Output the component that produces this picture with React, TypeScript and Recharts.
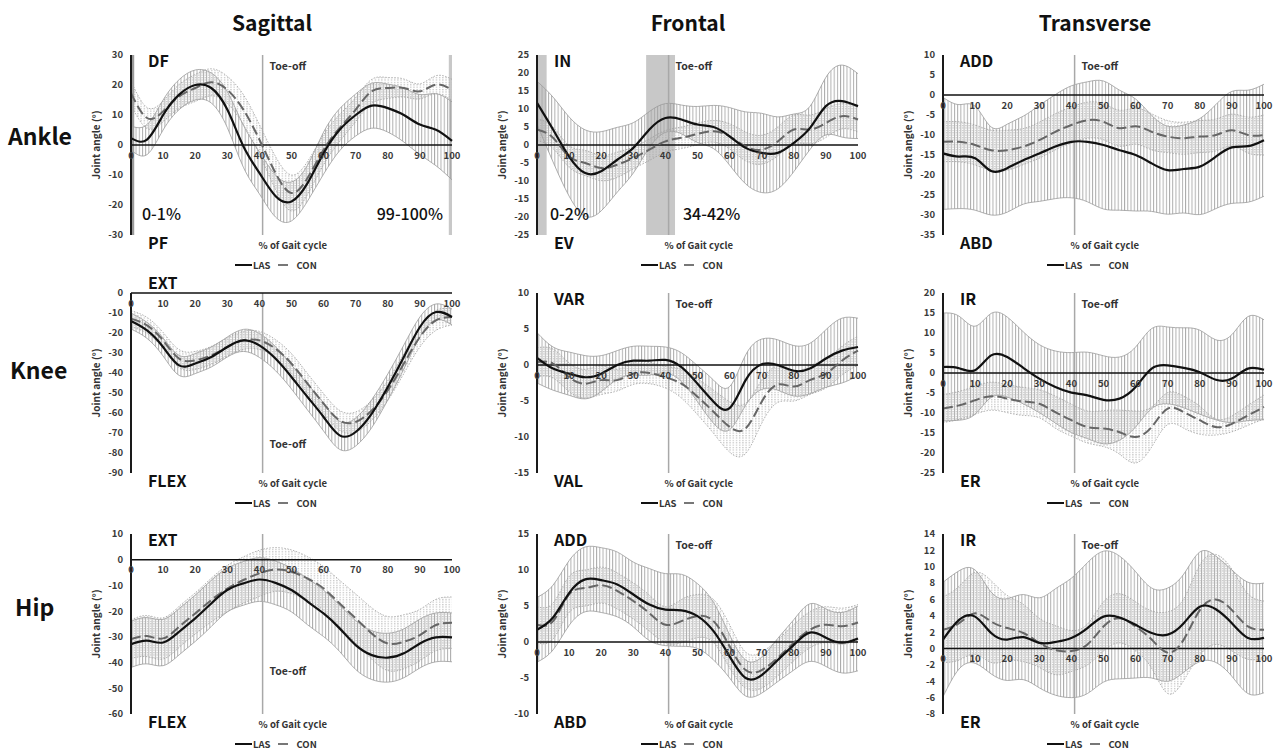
import React from "react";
import {
  Area,
  ComposedChart,
  Line,
  ReferenceArea,
  ReferenceDot,
  ReferenceLine,
  XAxis,
  YAxis,
} from "recharts";

const FONT = "'Noto Sans CJK KR', 'Noto Sans', sans-serif";

// % of gait cycle, sampled every 5%
const X = [0, 5, 10, 15, 20, 25, 30, 35, 40, 45, 50, 55, 60, 65, 70, 75, 80, 85, 90, 95, 100];
const X_TICKS = [0, 10, 20, 30, 40, 50, 60, 70, 80, 90, 100];
const TOE_OFF = 41;

// ---- Ankle ----
const ankleSagLas = [2.3, 1.8, 10, 16.8, 20, 19, 11.8, -0.4, -9.3, -17, -18.8, -12.7, -2.7, 5.1, 10, 13.1, 12.3, 10, 6.8, 5.1, 1.4];
const ankleSagLasSd = [4, 5, 5, 5, 5, 5, 6, 7, 7, 7, 6.5, 6, 7, 7, 7, 7.5, 8, 9, 10, 12, 13];
const ankleSagCon = [17.3, 9, 11.2, 16.2, 19, 20.9, 18.4, 11.8, 1.8, -9.3, -16, -11, -1.6, 5.7, 11.8, 17.9, 19, 19, 17.9, 20.1, 18.4];
const ankleSagConSd = [4, 3.5, 3.5, 4, 4.5, 4.5, 4.5, 5, 5, 5.5, 6, 5.5, 5, 4.5, 4, 4, 3.5, 3, 2.5, 3, 3.5];

const ankleFrontLas = [11.7, 4.3, -3.2, -7.8, -7.3, -4.1, -0.8, 4.3, 7.5, 7.1, 5.7, 5, 2.4, -0.8, -2.2, -2.2, 0.6, 4.7, 10.8, 12.2, 10.8];
const ankleFrontLasSd = [6, 9, 11, 12, 11, 9, 7, 5, 4, 4, 5, 6, 8, 10, 11, 10, 8, 6, 8, 10, 9];
const ankleFrontCon = [4.3, 2, -3.2, -5, -6.4, -5.5, -3.6, -1.3, 1, 2, 3.1, 3.8, 2.4, -0.4, -1.3, 1, 4.3, 4.3, 6.1, 8, 7.1];
const ankleFrontConSd = [3, 3, 3, 3.5, 3.5, 3.5, 3, 3, 3, 3, 3, 3, 3.5, 4, 4, 4, 4, 4, 4, 3.5, 3.5];

const ankleTransLas = [-14.6, -15.4, -15.8, -19, -18.3, -16.3, -14.6, -12.9, -11.7, -11.7, -12.5, -13.8, -15, -17.1, -18.8, -18.5, -17.9, -15.4, -13.1, -12.8, -11.3];
const ankleTransLasSd = [14, 13, 13, 11, 11, 11, 12, 13, 14, 15, 16, 15, 14, 12, 11, 11, 12, 13, 14, 14, 14];
const ankleTransCon = [-11.7, -11.7, -12.5, -13.8, -13.8, -12.9, -11.3, -9.2, -7.5, -6.3, -6.7, -8.3, -7.8, -9.2, -10.4, -10.8, -10.4, -10, -8.8, -10, -10];
const ankleTransConSd = [5, 5, 5, 5, 5, 4.5, 4.5, 4.5, 4.5, 4.5, 4.5, 4.5, 4.5, 4.5, 4, 4, 4, 4, 4, 4.5, 5];

// ---- Knee ----
const kneeSagLas = [-14, -18.7, -27, -36.2, -35.3, -32, -27, -23.7, -26.2, -32.8, -42, -52, -62, -71.2, -69.5, -60.3, -47, -32, -17, -9.5, -12];
const kneeSagLasSd = [4, 4, 4.5, 5, 5, 5, 5, 5.5, 6, 6, 6, 6.5, 7, 7, 7, 7, 6.5, 6, 5, 4, 4];
const kneeSagCon = [-12.8, -16.2, -23.7, -32.8, -33.7, -31.2, -27, -23.7, -23.7, -27.8, -35.3, -45.3, -55.3, -63.7, -64.5, -58.7, -48.7, -35.3, -22, -13.7, -12];
const kneeSagConSd = [4, 4, 4, 4.5, 4.5, 4.5, 4.5, 4.5, 4.5, 4.5, 5, 5, 5, 5, 5, 5, 5, 5, 5, 5, 4];

const kneeFrontLas = [1, -0.5, -1.2, -1.7, -1.2, 0, 0.6, 0.6, 0.7, -0.3, -2.6, -5.1, -6, -2.1, 0.1, 0, -0.8, -0.5, 0.9, 2, 2.5];
const kneeFrontLasSd = [3.5, 3, 3, 3, 2.5, 2, 2, 2, 1.8, 2, 2.5, 3, 3, 3.5, 3.5, 3.5, 3.5, 3.5, 4, 4.5, 4];
const kneeFrontCon = [0.4, 0.2, -1.7, -2.6, -2.1, -2.1, -1.2, -1.1, -1.7, -2.6, -4.4, -6.5, -8.6, -8.8, -5.1, -2.7, -3, -2.1, -1.2, 0.6, 2];
const kneeFrontConSd = [2, 2, 2, 2, 2, 1.5, 1.5, 1.5, 1.5, 2, 2.5, 3, 3.5, 3.5, 3, 2.5, 2, 2, 2, 2, 2];

const kneeTransLas = [1.5, 1.2, 0.7, 4.4, 4, 1.3, -1.4, -3.5, -4.9, -5.6, -6.7, -6.4, -3.5, 1.1, 1.9, 1.3, 0.2, -1.7, -1.4, 1.1, 0.8];
const kneeTransLasSd = [13.5, 13, 11, 10.5, 10, 9, 8.5, 9, 10, 10.8, 11, 10.4, 10, 10, 9.6, 10, 10.5, 10, 11, 13, 12.5];
const kneeTransCon = [-8.9, -8.1, -6.8, -5.8, -6.4, -7.1, -7.7, -9.8, -11.8, -13.5, -13.9, -14.8, -16, -13.5, -8.9, -9.8, -11.8, -13.5, -12.7, -10.6, -8.5];
const kneeTransConSd = [3.5, 3.5, 3.5, 3.5, 3.5, 3.5, 3.5, 4, 4, 4, 4.5, 5.5, 6.5, 5, 4, 4, 3.5, 2, 2, 2.5, 3];

// ---- Hip ----
const hipSagLas = [-32.9, -31.5, -32.2, -28, -22.8, -17, -11.8, -9.2, -7.7, -9, -11.8, -16.3, -20.9, -26.7, -33.2, -37.1, -38.1, -36.4, -32.6, -30.2, -30.2];
const hipSagLasSd = [9, 9, 9, 9, 9, 9, 8.5, 8.5, 8.5, 8.5, 8.5, 9, 9, 9, 9.5, 9.5, 9.5, 9.5, 9.5, 9.5, 9.5];
const hipSagCon = [-30.9, -29.7, -30.6, -26.1, -20.9, -15.7, -11.2, -7.9, -5.3, -3.8, -4.7, -7.3, -11.2, -17, -22.8, -28.7, -32.6, -31.9, -29.3, -25.4, -24.5];
const hipSagConSd = [7.5, 8, 8, 8, 8, 8.5, 9, 9, 9, 8.5, 8.5, 8.5, 8.5, 9, 9.5, 10, 10.5, 10.5, 10, 10, 10];

const hipFrontLas = [1.7, 3.4, 6.8, 8.7, 8.6, 8, 6.6, 5.2, 4.5, 4.4, 3.6, 1.5, -2, -5, -4.6, -2.5, -0.4, 1.3, 0.6, -0.1, 0.5];
const hipFrontLasSd = [4.5, 4.5, 4.5, 4.5, 4.5, 4.5, 4.5, 5, 5, 5, 4.5, 4, 3, 2.5, 2.5, 3, 3.5, 4, 4, 4.2, 4.5];
const hipFrontCon = [2.4, 2.9, 6.6, 7.5, 7.9, 7.1, 5.7, 4, 2.4, 2.9, 3.6, 2.9, -0.6, -3.9, -3.9, -2.2, -0.1, 1.7, 2.4, 2.2, 2.7];
const hipFrontConSd = [2.5, 2.5, 2.5, 2.5, 2.5, 2.5, 2.5, 2.5, 2.5, 3, 3, 3, 3, 2.5, 2.5, 2.5, 2.5, 2.5, 2.5, 2.5, 2.5];

const hipTransLas = [1.1, 3.5, 3.9, 1.9, 1.1, 1.4, 0.7, 0.8, 1.3, 2.5, 3.9, 3.8, 2.9, 1.9, 1.7, 3.1, 5.1, 4.8, 3.1, 1.3, 1.3];
const hipTransLasSd = [7, 6, 5.7, 5, 5, 5.2, 5.5, 6.5, 7.3, 8, 8, 7.5, 6.5, 5.5, 5.7, 6, 6.7, 6.5, 6.5, 6.8, 6.7];
const hipTransCon = [2.3, 3.1, 4.3, 3.3, 2.5, 1.9, 0.7, -0.2, -0.3, 0.5, 2.7, 3.7, 2.7, 1.1, -0.5, 1.1, 4.7, 6, 4.7, 2.7, 2.3];
const hipTransConSd = [4, 4.5, 5, 5, 4, 3.5, 3, 3, 2.5, 2.5, 3, 3, 3, 3.5, 5, 5, 5.5, 5.5, 5, 4, 3.5];

// y ticks
const ankleSagTicks = [-30, -20, -10, 0, 10, 20, 30];
const ankleFrontTicks = [-25, -20, -15, -10, -5, 0, 5, 10, 15, 20, 25];
const ankleTransTicks = [-35, -30, -25, -20, -15, -10, -5, 0, 5, 10];
const kneeSagTicks = [-90, -80, -70, -60, -50, -40, -30, -20, -10, 0];
const kneeFrontTicks = [-15, -10, -5, 0, 5, 10];
const kneeTransTicks = [-25, -20, -15, -10, -5, 0, 5, 10, 15, 20];
const hipSagTicks = [-60, -50, -40, -30, -20, -10, 0, 10];
const hipFrontTicks = [-10, -5, 0, 5, 10, 15];
const hipTransTicks = [-8, -6, -4, -2, 0, 2, 4, 6, 8, 10, 12, 14];

const COLUMNS = ["Sagittal", "Frontal", "Transverse"];
const ROWS = ["Ankle", "Knee", "Hip"];

// layout
const COL_LEFT = [131, 537, 943];
const ROW_TOP = [55, 293, 534];
const PW = 321;
const PH = 180;
const M = { top: 14, right: 10, bottom: 24, left: 0 };
const YW = 50;

interface Pct { text: string; dx: number; right?: boolean }
interface PanelDef {
  id: string;
  col: number;
  row: number;
  ticks: number[];
  las: number[];
  lasSd: number[];
  con: number[];
  conSd: number[];
  up: string;
  down: string;
  upDy?: number;
  toeDy?: number;
  shade?: [number, number, string][];
  pct?: Pct[];
}

const PANELS: PanelDef[] = [
  {
    id: "as", col: 0, row: 0, ticks: ankleSagTicks, las: ankleSagLas, lasSd: ankleSagLasSd, con: ankleSagCon, conSd: ankleSagConSd,
    up: "DF", down: "PF", shade: [[0, 1, "#9a9a9a"], [99, 100, "#c8c8c8"]],
    pct: [{ text: "0-1%", dx: 11 }, { text: "99-100%", dx: 312, right: true }],
  },
  {
    id: "af", col: 1, row: 0, ticks: ankleFrontTicks, las: ankleFrontLas, lasSd: ankleFrontLasSd, con: ankleFrontCon, conSd: ankleFrontConSd,
    up: "IN", down: "EV", shade: [[0, 3, "#c8c8c8"], [34, 43, "#c8c8c8"]],
    pct: [{ text: "0-2%", dx: 13 }, { text: "34-42%", dx: 146 }],
  },
  { id: "at", col: 2, row: 0, ticks: ankleTransTicks, las: ankleTransLas, lasSd: ankleTransLasSd, con: ankleTransCon, conSd: ankleTransConSd, up: "ADD", down: "ABD" },
  { id: "ks", col: 0, row: 1, ticks: kneeSagTicks, las: kneeSagLas, lasSd: kneeSagLasSd, con: kneeSagCon, conSd: kneeSagConSd, up: "EXT", down: "FLEX", upDy: -11, toeDy: 150 },
  { id: "kf", col: 1, row: 1, ticks: kneeFrontTicks, las: kneeFrontLas, lasSd: kneeFrontLasSd, con: kneeFrontCon, conSd: kneeFrontConSd, up: "VAR", down: "VAL" },
  { id: "kt", col: 2, row: 1, ticks: kneeTransTicks, las: kneeTransLas, lasSd: kneeTransLasSd, con: kneeTransCon, conSd: kneeTransConSd, up: "IR", down: "ER" },
  { id: "hs", col: 0, row: 2, ticks: hipSagTicks, las: hipSagLas, lasSd: hipSagLasSd, con: hipSagCon, conSd: hipSagConSd, up: "EXT", down: "FLEX", toeDy: 136 },
  { id: "hf", col: 1, row: 2, ticks: hipFrontTicks, las: hipFrontLas, lasSd: hipFrontLasSd, con: hipFrontCon, conSd: hipFrontConSd, up: "ADD", down: "ABD" },
  { id: "ht", col: 2, row: 2, ticks: hipTransTicks, las: hipTransLas, lasSd: hipTransLasSd, con: hipTransCon, conSd: hipTransConSd, up: "IR", down: "ER" },
];

const tickStyle = { fontSize: 9.5, fontWeight: 700, fill: "#3a3a3a", fontFamily: FONT };

function Panel({ d }: { d: PanelDef }) {
  const left = COL_LEFT[d.col];
  const top = ROW_TOP[d.row];
  const rows = X.map((x, i) => ({
    x,
    las: d.las[i],
    con: d.con[i],
    lasBand: [d.las[i] - d.lasSd[i], d.las[i] + d.lasSd[i]],
    conBand: [d.con[i] - d.conSd[i], d.con[i] + d.conSd[i]],
  }));
  const domain = [d.ticks[0], d.ticks[d.ticks.length - 1]];

  const toeLabel = (props: any) => {
    const vb = props.viewBox;
    const ty = d.toeDy == null ? vb.y + 10 : vb.y + d.toeDy;
    return (
      <g fontFamily={FONT} fontWeight={700} fill="#333">
        <text x={vb.x + 7} y={ty} dominantBaseline="central" fontSize={10.5}>Toe-off</text>
        <text x={vb.x - 4} y={vb.y + vb.height + 10} dominantBaseline="central" fontSize={9.5}>% of Gait cycle</text>
      </g>
    );
  };

  const big = { position: "absolute" as const, fontFamily: FONT, fontWeight: 700, fontSize: 16, color: "#111", lineHeight: "20px" };

  return (
    <>
      <div style={{ position: "absolute", left: left - YW, top: top - M.top }}>
        <ComposedChart width={YW + PW + M.right} height={M.top + PH + M.bottom} data={rows} margin={M}>
          <defs>
            <pattern id={`las-${d.id}`} patternUnits="userSpaceOnUse" width={3.21} height={4}>
              <line x1={0.5} y1={0} x2={0.5} y2={4} stroke="#a6a6a6" strokeWidth={0.9} />
            </pattern>
            <pattern id={`con-${d.id}`} patternUnits="userSpaceOnUse" width={3.21} height={2.4}>
              <rect x={1.9} y={0} width={0.9} height={1.2} fill="#a8a8a8" />
            </pattern>
          </defs>
          <XAxis type="number" dataKey="x" domain={[0, 100]} hide />
          <YAxis
            type="number"
            domain={domain}
            ticks={d.ticks}
            interval={0}
            width={YW}
            axisLine={{ stroke: "#1a1a1a", strokeWidth: 2 }}
            tickLine={false}
            tickSize={0}
            tickMargin={8}
            tick={tickStyle}
          />
          {(d.shade || []).map(([a, b, c]) => (
            <ReferenceArea key={`${a}-${b}`} x1={a} x2={b} fill={c} fillOpacity={1} stroke="none" />
          ))}
          <Area
            type="natural"
            dataKey="lasBand"
            stroke="#9a9a9a"
            strokeWidth={0.8}
            fill={`url(#las-${d.id})`}
            fillOpacity={1}
            dot={false}
            activeDot={false}
            isAnimationActive={false}
          />
          <Area
            type="natural"
            dataKey="conBand"
            stroke="#a0a0a0"
            strokeWidth={0.8}
            strokeDasharray="1.5 1.5"
            fill={`url(#con-${d.id})`}
            fillOpacity={1}
            dot={false}
            activeDot={false}
            isAnimationActive={false}
          />
          <ReferenceLine x={TOE_OFF} stroke="#a8a8a8" strokeWidth={1.5} label={toeLabel} />
          <ReferenceLine y={0} stroke="#111" strokeWidth={1.5} />
          {X_TICKS.map((t) => (
            <ReferenceDot
              key={t}
              x={t}
              y={0}
              r={1}
              fill="none"
              stroke="none"
              label={{ value: String(t), position: "bottom", offset: 6, ...tickStyle }}
            />
          ))}
          <Line type="natural" dataKey="con" stroke="#666" strokeWidth={2} strokeDasharray="10 4" dot={false} activeDot={false} isAnimationActive={false} />
          <Line type="natural" dataKey="las" stroke="#111" strokeWidth={2.2} dot={false} activeDot={false} isAnimationActive={false} />
        </ComposedChart>
      </div>

      {/* corner labels */}
      <div style={{ ...big, left: left + 17, top: top + (d.upDy ?? 5) - 10 }}>{d.up}</div>
      <div style={{ ...big, left: left + 17, top: top + PH + 7 - 10 }}>{d.down}</div>

      {(d.pct || []).map((p) => (
        <div
          key={p.text}
          style={{
            position: "absolute",
            fontFamily: FONT,
            fontWeight: 500,
            fontSize: 16,
            color: "#111",
            lineHeight: "20px",
            top: top + 158 - 10,
            ...(p.right ? { right: 1275 - (left + p.dx) } : { left: left + p.dx }),
          }}
        >
          {p.text}
        </div>
      ))}

      {/* y-axis title */}
      <div
        style={{
          position: "absolute",
          left: left - 35 - 60,
          top: top + PH / 2 - 7,
          width: 120,
          textAlign: "center",
          transform: "rotate(-90deg)",
          fontFamily: FONT,
          fontWeight: 700,
          fontSize: 10,
          color: "#333",
          lineHeight: "14px",
        }}
      >
        Joint angle (°)
      </div>

      {/* legend */}
      <div
        style={{
          position: "absolute",
          left: left + 104,
          top: top + PH + 30 - 7,
          height: 14,
          display: "flex",
          alignItems: "center",
          fontFamily: FONT,
          fontWeight: 700,
          fontSize: 9.5,
          color: "#333",
        }}
      >
        <span style={{ display: "inline-block", width: 17, height: 0, borderTop: "2.5px solid #111" }} />
        <span style={{ marginLeft: 1 }}>LAS</span>
        <span style={{ display: "inline-block", width: 10, height: 0, borderTop: "2px solid #777", marginLeft: 8 }} />
        <span style={{ marginLeft: 8 }}>CON</span>
      </div>
    </>
  );
}

export default function App() {
  return (
    <div style={{ position: "absolute", left: 0, top: 0, width: 1275, height: 751, overflow: "hidden", background: "#fff" }}>
      {COLUMNS.map((c, i) => (
        <div
          key={c}
          style={{
            position: "absolute",
            left: [272, 688, 1095][i] - 100,
            top: 9,
            width: 200,
            textAlign: "center",
            fontFamily: FONT,
            fontWeight: 700,
            fontSize: 21,
            lineHeight: "26px",
            color: "#111",
          }}
        >
          {c}
        </div>
      ))}
      {ROWS.map((r, i) => (
        <div
          key={r}
          style={{
            position: "absolute",
            left: [8, 10, 15][i],
            top: [135, 369, 606][i] - 14,
            fontFamily: FONT,
            fontWeight: 700,
            fontSize: 23,
            lineHeight: "28px",
            color: "#111",
          }}
        >
          {r}
        </div>
      ))}
      {PANELS.map((p) => (
        <Panel key={p.id} d={p} />
      ))}
    </div>
  );
}
